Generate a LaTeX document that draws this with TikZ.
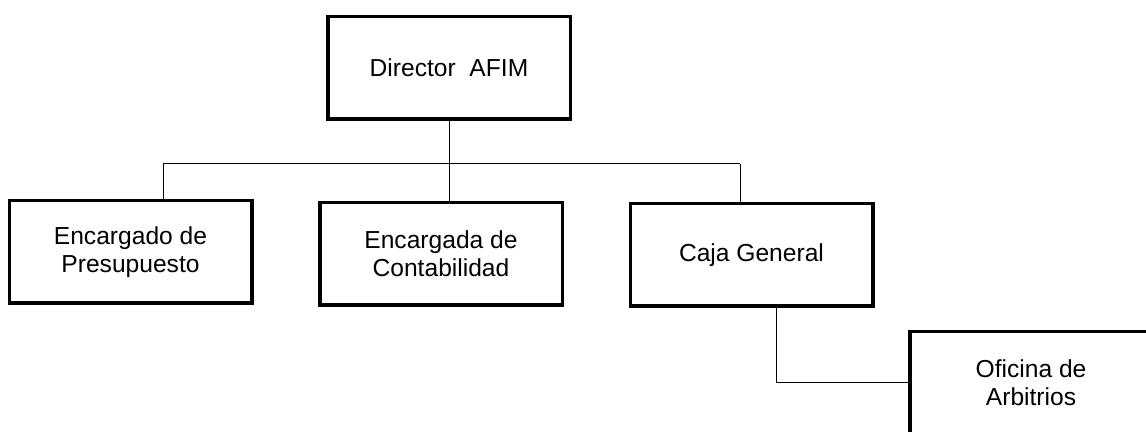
\documentclass[tikz,border=0pt]{standalone}
\usepackage{fontspec}
\setmainfont{Liberation Sans}
\usetikzlibrary{positioning}

\begin{document}
\begin{tikzpicture}[x=0.5pt,y=-0.5pt, %pixel grid of the scan, y going down
box/.style ={rectangle, draw, line width=1.75pt, align=center, minimum width=121.25pt, minimum height=51.25pt, inner sep=0pt, font=\fontsize{12.3}{14}\selectfont},
link/.style ={draw, line width=0.5pt}
]
\useasboundingbox (0,0) rectangle (1146,432);
\clip (0,0) rectangle (1146,432);
%top box
\path (449,68) node[box] (dir) {Director\ \ AFIM};
%second row
\path (130.5,252) node[box] (pres) {Encargado de\\Presupuesto}
(441,254) node[box] (cont) {Encargada de\\Contabilidad}
(751.5,255) node[box] (caja) {Caja General};
%lower box, runs off the page
\path (1031,383) node[box] (ofi) {Oficina de\\Arbitrios};
%bus under the director
\draw (163,164) coordinate (b1);
\draw (449,164) coordinate (b2);
\draw (740,164) coordinate (b3);
\draw[link] (dir.south) -- (b2);
\draw[link] (b1) -- (b3);
\draw[link] (b1) -- (b1 |- pres.north);
\draw[link] (b2) -- (b2 |- cont.north);
\draw[link] (b3) -- (b3 |- caja.north);
%caja to oficina
\draw (776,0) coordinate (c1);
\draw[link] (caja.south -| c1) |- (ofi.west);
\end{tikzpicture}
\end{document}
